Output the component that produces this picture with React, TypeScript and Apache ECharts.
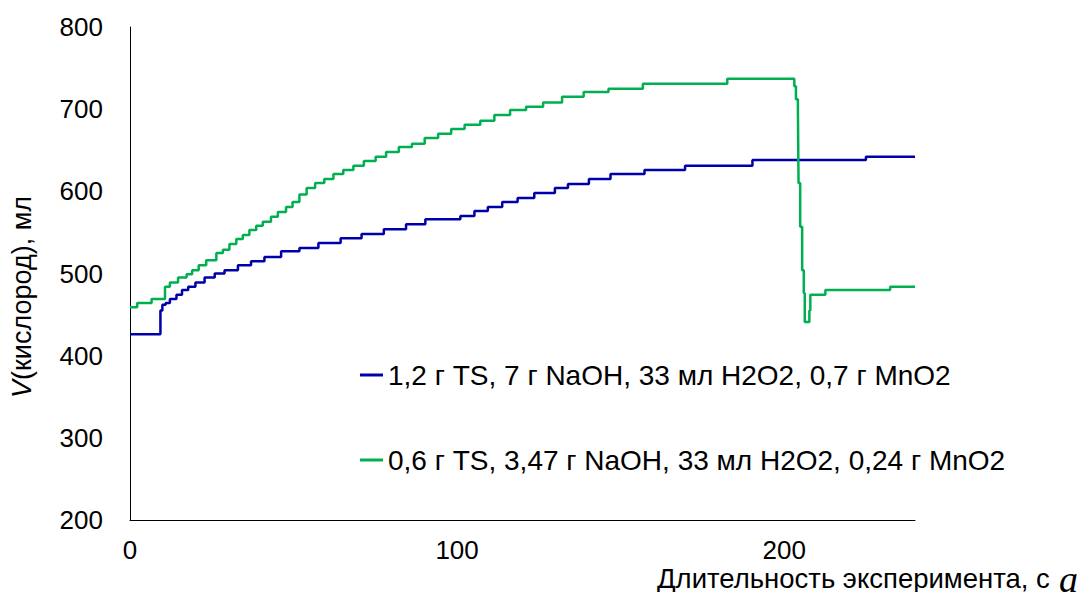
import React, { useEffect, useRef } from "react";
import * as echarts from "echarts";

// Time (s) at which each step starts, and the volume (ml) from then on
const blueT = [0, 9.3, 9.9, 10.9, 12.2, 14.2, 15.9, 17.8, 20.0, 22.8, 25.9, 28.9, 33.0, 37.0, 41.1, 46.2, 51.8, 57.6, 64.4, 70.8, 77.6, 84.4, 90.3, 101.0, 105.3, 109.4, 113.8, 118.5, 123.6, 129.9, 133.9, 140.3, 146.9, 157.3, 169.7, 190.3, 225.0, 240];
const blueV = [426, 455, 462, 464, 469, 474, 480, 484, 489, 495, 500, 504, 510, 515, 520, 527, 531, 537, 543, 548, 554, 560, 566, 570, 576, 581, 587, 592, 598, 604, 609, 615, 621, 626, 631, 638, 642, 642];

const greenT = [0, 2.2, 6.6, 10.7, 12.2, 14.7, 17.3, 19.0, 21.0, 23.3, 26.4, 28.4, 30.4, 32.5, 34.5, 36.5, 38.6, 40.6, 43.1, 45.2, 47.7, 49.7, 51.8, 54.0, 56.6, 59.4, 62.2, 65.2, 68.3, 71.5, 75.1, 78.3, 82.2, 86.2, 90.1, 94.2, 98.2, 102.3, 107.1, 111.4, 116.2, 121.1, 126.3, 132.1, 138.7, 146.3, 156.8, 182.6, 203.1, 203.6, 204.2, 204.4, 204.9, 205.5, 206.0, 206.3, 207.7, 208.0, 212.6, 232.4, 240];
const greenV = [459, 464, 469, 484, 489, 495, 499, 504, 510, 516, 525, 529, 536, 542, 547, 553, 558, 563, 569, 575, 581, 587, 596, 604, 610, 615, 621, 626, 631, 637, 642, 648, 654, 658, 665, 670, 676, 681, 686, 693, 699, 703, 708, 715, 721, 725, 731, 737, 728, 712, 699, 610, 557, 504, 476, 441, 455, 474, 480, 484, 484];

const seriesNames = [
  "1,2 г TS, 7 г NaOH, 33 мл H2O2, 0,7 г MnO2",
  "0,6 г TS, 3,47 г NaOH, 33 мл H2O2, 0,24 г MnO2",
];
const seriesColors = ["#0000AA", "#00B050"];

const yTicks = { min: 200, max: 800, interval: 100 };
const xTicks = { min: 0, max: 240, interval: 100 };

const xTitle = "Длительность эксперимента, с";
const yTitle = "{i|V}(кислород), мл";
const panelLabel = "а";

const FONT = "'Liberation Sans', Arial, sans-serif";

export default function App() {
  const ref = useRef<HTMLDivElement>(null);
  useEffect(() => {
    if (!ref.current) return;
    const chart = echarts.init(ref.current, null, { renderer: "svg" });
    const blue = blueT.map((t, i) => [t, blueV[i]]);
    const green = greenT.map((t, i) => [t, greenV[i]]);
    chart.setOption({
      animation: false,
      backgroundColor: "#ffffff",
      textStyle: { fontFamily: FONT },
      grid: { left: 130, right: 170, top: 27, bottom: 72, containLabel: false },
      xAxis: {
        type: "value",
        min: xTicks.min,
        max: xTicks.max,
        interval: xTicks.interval,
        axisLine: { show: true, lineStyle: { color: "#000", width: 1 } },
        axisTick: { show: false },
        splitLine: { show: false },
        axisLabel: { color: "#000", fontSize: 26, lineHeight: 24, fontFamily: FONT, margin: 18, showMaxLabel: false },
      },
      yAxis: {
        type: "value",
        min: yTicks.min,
        max: yTicks.max,
        interval: yTicks.interval,
        axisLine: { show: true, lineStyle: { color: "#000", width: 1 } },
        axisTick: { show: false },
        splitLine: { show: false },
        axisLabel: { color: "#000", fontSize: 26, fontFamily: FONT, margin: 27 },
      },
      legend: {
        orient: "vertical",
        left: 360,
        top: 359,
        padding: 0,
        itemGap: 53,
        itemWidth: 23,
        itemHeight: 3,
        icon: "rect",
        textStyle: { color: "#000", fontSize: 28, fontFamily: FONT, lineHeight: 32 },
        data: seriesNames,
      },
      graphic: [
        {
          type: "text",
          left: 657,
          top: 564,
          style: { text: xTitle, fill: "#000", font: `27.5px ${FONT}` },
        },
        {
          type: "text",
          x: 22,
          y: 297,
          rotation: Math.PI / 2,
          style: {
            text: yTitle,
            fill: "#000",
            fontSize: 27,
            fontFamily: FONT,
            align: "center",
            verticalAlign: "middle",
            rich: { i: { fontStyle: "italic", fontSize: 27, fontFamily: FONT, fill: "#000" } },
          },
        },
        {
          type: "text",
          x: 1059,
          y: 560,
          style: {
            text: panelLabel,
            fill: "#000",
            font: `italic 38px 'Liberation Serif', 'Times New Roman', serif`,
            verticalAlign: "top",
          },
        },
      ],
      series: [
        {
          name: seriesNames[0],
          type: "line",
          step: "end",
          data: blue,
          showSymbol: false,
          symbol: "none",
          lineStyle: { color: seriesColors[0], width: 2.5 },
          itemStyle: { color: seriesColors[0] },
        },
        {
          name: seriesNames[1],
          type: "line",
          step: "end",
          data: green,
          showSymbol: false,
          symbol: "none",
          lineStyle: { color: seriesColors[1], width: 2.5 },
          itemStyle: { color: seriesColors[1] },
        },
      ],
    });
    return () => chart.dispose();
  }, []);
  return (
    <div
      ref={ref}
      style={{
        position: "fixed",
        left: 0,
        top: 0,
        width: 1085,
        height: 592,
        background: "#fff",
      }}
    />
  );
}
